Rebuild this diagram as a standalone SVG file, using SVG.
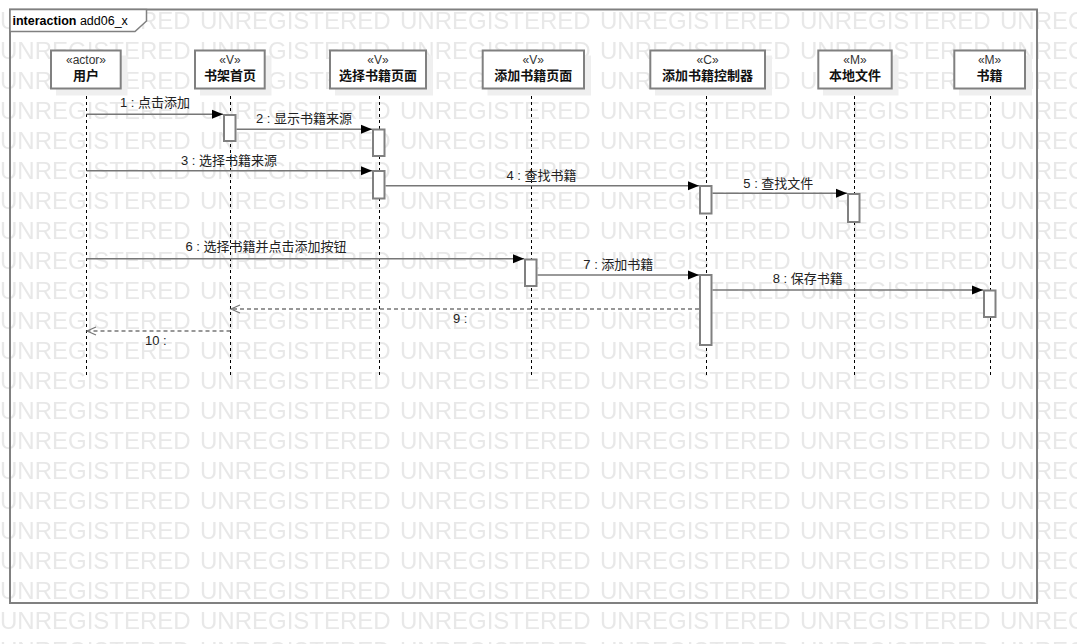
<svg xmlns="http://www.w3.org/2000/svg" width="1077" height="644" viewBox="0 0 1077 644">
<style>
.t{font-family:"Liberation Sans","Noto Sans CJK SC",sans-serif;font-size:13px;fill:#222}
.st{font-family:"Liberation Sans","Noto Sans CJK SC",sans-serif;font-size:12px;fill:#333;text-anchor:middle}
.nm{font-family:"Liberation Sans","Noto Sans CJK SC",sans-serif;font-size:13px;font-weight:bold;fill:#111;text-anchor:middle}
.box{fill:#fff;stroke:#808080;stroke-width:2}
.shd{fill:#efefef;stroke:none}
.life{stroke:#000;stroke-width:1;stroke-dasharray:3,3;fill:none}
.bar{fill:#fff;stroke:#808080;stroke-width:2}
.msg{stroke:#777;stroke-width:1.5;fill:none}
.ret{stroke:#777;stroke-width:1.5;fill:none;stroke-dasharray:4,3}
.wm{font-family:"Liberation Sans",sans-serif;font-size:24px;fill:#e8e8e8}
</style>
<defs>
<pattern id="wmp" x="0" y="0" width="200" height="30" patternUnits="userSpaceOnUse">
<text class="wm" x="0" y="29">UNREGISTERED</text>
</pattern>
<marker id="fa" markerWidth="12" markerHeight="10" refX="11" refY="5" orient="auto" markerUnits="userSpaceOnUse">
<path d="M0,0.5 L11,5 L0,9.5 Z" fill="#000"/>
</marker>
<marker id="oa" markerWidth="12" markerHeight="10" refX="10" refY="5" orient="auto" markerUnits="userSpaceOnUse">
<path d="M1,1 L10,5 L1,9" fill="none" stroke="#777" stroke-width="1.2"/>
</marker>
</defs>
<rect x="0" y="0" width="1077" height="644" fill="#fff"/>
<rect x="0" y="0" width="1077" height="644" fill="url(#wmp)"/>

<g id="frame">
<rect x="10" y="9.5" width="1027" height="593.5" fill="none" stroke="#808080" stroke-width="2"/>
<path d="M10,9.5 H146.5 V21 L135,31.5 H10 Z" fill="#fff" stroke="#808080" stroke-width="1.5"/>
<text x="12.5" y="25" style="font-family:'Liberation Sans',sans-serif;font-size:12.5px;fill:#000"><tspan font-weight="bold">interaction</tspan> add06_x</text>
</g>

<g id="lifelines">
<line class="life" x1="86.5" y1="90" x2="86.5" y2="376"/>
<line class="life" x1="230.5" y1="90" x2="230.5" y2="376"/>
<line class="life" x1="379.5" y1="90" x2="379.5" y2="376"/>
<line class="life" x1="531.5" y1="90" x2="531.5" y2="376"/>
<line class="life" x1="706.5" y1="90" x2="706.5" y2="376"/>
<line class="life" x1="854.5" y1="90" x2="854.5" y2="376"/>
<line class="life" x1="990.5" y1="90" x2="990.5" y2="376"/>
</g>

<g id="n_user">
<rect class="shd" x="56" y="55.5" width="71.5" height="40"/>
<rect class="box" x="51" y="50.5" width="69.7" height="38"/>
<text class="st" x="86" y="64">«actor»</text>
<text class="nm" x="86" y="80">用户</text>
</g>
<g id="n_shelf">
<rect class="shd" x="200" y="55.5" width="71.5" height="40"/>
<rect class="box" x="195" y="50.5" width="69.7" height="38"/>
<text class="st" x="230" y="64">«V»</text>
<text class="nm" x="230" y="80">书架首页</text>
</g>
<g id="n_select">
<rect class="shd" x="335" y="55.5" width="98" height="40"/>
<rect class="box" x="330" y="50.5" width="96" height="38"/>
<text class="st" x="378" y="64">«V»</text>
<text class="nm" x="378" y="80">选择书籍页面</text>
</g>
<g id="n_addpage">
<rect class="shd" x="487.5" y="55.5" width="103.5" height="40"/>
<rect class="box" x="482.7" y="50.5" width="101.3" height="38"/>
<text class="st" x="533.3" y="64">«V»</text>
<text class="nm" x="533.3" y="80">添加书籍页面</text>
</g>
<g id="n_ctrl">
<rect class="shd" x="655" y="55.5" width="117" height="40"/>
<rect class="box" x="650.3" y="50.5" width="114.7" height="38"/>
<text class="st" x="707.6" y="64">«C»</text>
<text class="nm" x="707.6" y="80">添加书籍控制器</text>
</g>
<g id="n_file">
<rect class="shd" x="823" y="55.5" width="75.5" height="40"/>
<rect class="box" x="818.3" y="50.5" width="73.4" height="38"/>
<text class="st" x="855" y="64">«M»</text>
<text class="nm" x="855" y="80">本地文件</text>
</g>
<g id="n_book">
<rect class="shd" x="959" y="55.5" width="73" height="40"/>
<rect class="box" x="954.3" y="50.5" width="70.7" height="38"/>
<text class="st" x="989.6" y="64">«M»</text>
<text class="nm" x="989.6" y="80">书籍</text>
</g>

<g id="activations">
<rect class="bar" x="224" y="115" width="11.5" height="26"/>
<rect class="bar" x="373" y="129.5" width="11.5" height="26.5"/>
<rect class="bar" x="373" y="171" width="11.5" height="27.5"/>
<rect class="bar" x="700" y="186" width="11.5" height="27.5"/>
<rect class="bar" x="848" y="194" width="11.5" height="28"/>
<rect class="bar" x="525" y="259.5" width="11.5" height="26.5"/>
<rect class="bar" x="700" y="275" width="11.5" height="70"/>
<rect class="bar" x="984" y="290.5" width="11.5" height="26.5"/>
</g>

<g id="connectors">
<line class="msg" x1="86.5" y1="114.3" x2="223" y2="114.3" marker-end="url(#fa)"/>
<text class="t" x="120" y="107">1 : 点击添加</text>
<line class="msg" x1="236.5" y1="129.3" x2="372" y2="129.3" marker-end="url(#fa)"/>
<text class="t" x="256" y="123">2 : 显示书籍来源</text>
<line class="msg" x1="86.5" y1="170.7" x2="372" y2="170.7" marker-end="url(#fa)"/>
<text class="t" x="181" y="165">3 : 选择书籍来源</text>
<line class="msg" x1="385.5" y1="185.7" x2="699" y2="185.7" marker-end="url(#fa)"/>
<text class="t" x="506.5" y="180">4 : 查找书籍</text>
<line class="msg" x1="712.5" y1="193.3" x2="847" y2="193.3" marker-end="url(#fa)"/>
<text class="t" x="743.3" y="188">5 : 查找文件</text>
<line class="msg" x1="86.5" y1="258.7" x2="524" y2="258.7" marker-end="url(#fa)"/>
<text class="t" x="185.5" y="251">6 : 选择书籍并点击添加按钮</text>
<line class="msg" x1="537.5" y1="275" x2="699" y2="275" marker-end="url(#fa)"/>
<text class="t" x="583.3" y="269">7 : 添加书籍</text>
<line class="msg" x1="712.5" y1="290" x2="983" y2="290" marker-end="url(#fa)"/>
<text class="t" x="772.7" y="283">8 : 保存书籍</text>
<line class="ret" x1="699" y1="309" x2="231" y2="309" marker-end="url(#oa)"/>
<text class="t" x="453" y="323">9 :</text>
<line class="ret" x1="230.5" y1="331" x2="87" y2="331" marker-end="url(#oa)"/>
<text class="t" x="145" y="345">10 :</text>
</g>
</svg>
